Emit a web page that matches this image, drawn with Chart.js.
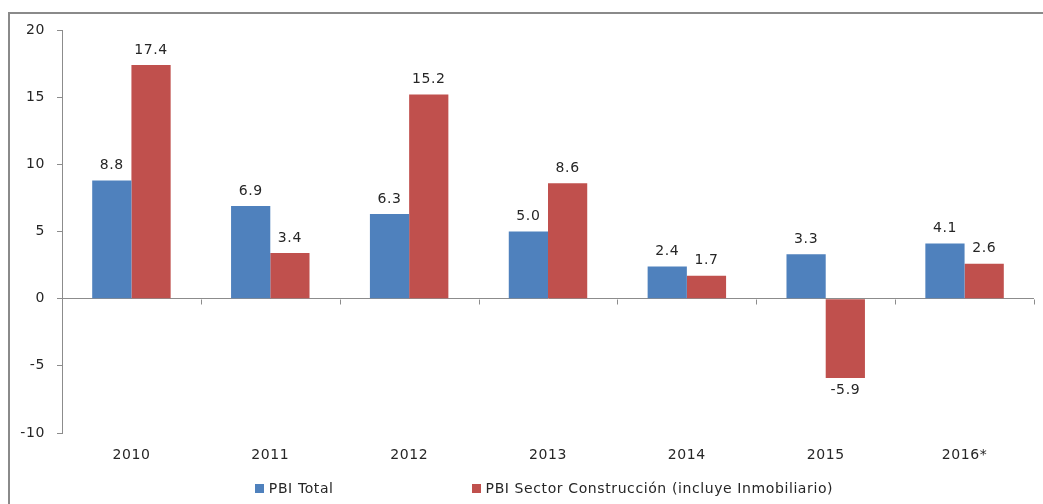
<!DOCTYPE html>
<html>
<head>
<meta charset="utf-8">
<script src="https://cdn.jsdelivr.net/npm/chart.js@4.4.0/dist/chart.umd.min.js"></script>
<style>
  html, body { margin: 0; padding: 0; background: #fff; }
  #wrap { position: relative; width: 1043px; height: 504px; overflow: hidden; }
  #frame { position: absolute; left: 8px; top: 12px; width: 1100px; height: 600px;
           border-left: 2px solid #8a8a8a; border-top: 2px solid #8a8a8a; }
  canvas { position: absolute; left: 0; top: 0; }
</style>
</head>
<body>
<div id="wrap">
  <div id="frame"></div>
  <canvas id="chart" width="1043" height="504"></canvas>
</div>
<script>
// years shown on the x axis
const years = ["2010", "2011", "2012", "2013", "2014", "2015", "2016*"];
// growth rates, %
const pbiTotal = [8.8, 6.9, 6.3, 5.0, 2.4, 3.3, 4.1];
const pbiConstruccion = [17.4, 3.4, 15.2, 8.6, 1.7, -5.9, 2.6];
const yTicks = [20, 15, 10, 5, 0, -5, -10];

const axisGray = "#8c8c8c";
const textColor = "#262626";
const fontFamily = "'DejaVu Sans', Verdana, sans-serif";
const fontSize = 14;

// the original font is a bit wider than DejaVu, spread letters a little
const wideText = {
  id: "wideText",
  beforeDraw(chart) { chart.ctx.letterSpacing = "0.6px"; }
};

// value labels above (or below for negatives) each bar
const valueLabels = {
  id: "valueLabels",
  afterDatasetsDraw(chart) {
    const ctx = chart.ctx;
    ctx.save();
    ctx.font = fontSize + "px " + fontFamily;
    ctx.fillStyle = textColor;
    ctx.textAlign = "center";
    ctx.textBaseline = "middle";
    chart.data.datasets.forEach((ds, i) => {
      chart.getDatasetMeta(i).data.forEach((bar, j) => {
        const v = ds.data[j];
        const y = v >= 0 ? bar.y - 15 : bar.y + 12;
        ctx.fillText(v.toFixed(1), bar.x, y);
      });
    });
    ctx.restore();
  }
};

// small tick marks on the zero line at category boundaries
const zeroTicks = {
  id: "zeroTicks",
  afterDraw(chart) {
    const x = chart.scales.x, y = chart.scales.y;
    const y0 = Math.round(y.getPixelForValue(0)) + 0.5;
    const ctx = chart.ctx;
    const step = x.getPixelForValue(1) - x.getPixelForValue(0);
    ctx.save();
    ctx.strokeStyle = axisGray;
    ctx.lineWidth = 1;
    ctx.beginPath();
    for (let i = 0; i <= years.length; i++) {
      const px = Math.round(x.getPixelForValue(0) - step / 2 + i * step) + 0.5;
      ctx.moveTo(px, y0);
      ctx.lineTo(px, y0 + 5);
    }
    ctx.stroke();
    ctx.restore();
  }
};

// legend with a wide gap between items (chart.js padding would also grow the height)
const wideLegend = {
  id: "wideLegend",
  afterDraw(chart) {
    const ctx = chart.ctx;
    const gap = 138, box = 9, boxGap = 5;
    ctx.save();
    ctx.font = fontSize + "px " + fontFamily;
    ctx.textBaseline = "middle";
    const items = chart.data.datasets.map(ds => ({
      text: ds.label, color: ds.backgroundColor, w: box + boxGap + ctx.measureText(ds.label).width
    }));
    const total = items.reduce((s, it) => s + it.w, 0) + gap * (items.length - 1);
    const cx = (chart.chartArea.left + chart.chartArea.right) / 2 - 4;
    const cy = 489;
    let x = cx - total / 2;
    items.forEach(it => {
      ctx.fillStyle = it.color;
      ctx.fillRect(Math.round(x), cy - 5, box, box);
      ctx.fillStyle = textColor;
      ctx.fillText(it.text, x + box + boxGap, cy);
      x += it.w + gap;
    });
    ctx.restore();
  }
};

new Chart(document.getElementById("chart"), {
  type: "bar",
  data: {
    labels: years,
    datasets: [
      { label: "PBI Total", data: pbiTotal, backgroundColor: "#4f81bd" },
      { label: "PBI Sector Construcción (incluye Inmobiliario)", data: pbiConstruccion, backgroundColor: "#c0504d" }
    ]
  },
  options: {
    responsive: false,
    animation: false,
    layout: { padding: { left: 0, right: 9, top: 30, bottom: 37 } },
    datasets: { bar: { categoryPercentage: 0.565, barPercentage: 1.0 } },
    plugins: {
      tooltip: { enabled: false },
      legend: { display: false }
    },
    scales: {
      x: {
        grid: { display: false },
        border: { display: false },
        ticks: { font: { family: fontFamily, size: fontSize }, color: textColor, padding: 6 },
        afterFit(s) { s.height = 34; }
      },
      y: {
        min: -10, max: 20,
        afterBuildTicks(s) { s.ticks = yTicks.map(v => ({ value: v })); },
        grid: {
          drawOnChartArea: true,
          color: c => (c.tick && c.tick.value === 0 ? axisGray : "transparent"),
          tickColor: axisGray,
          tickLength: 5
        },
        border: { display: true, color: axisGray },
        ticks: { font: { family: fontFamily, size: fontSize }, color: textColor, padding: 12 },
        afterFit(s) { s.width = 62; }
      }
    }
  },
  plugins: [wideText, valueLabels, zeroTicks, wideLegend]
});
</script>
</body>
</html>
